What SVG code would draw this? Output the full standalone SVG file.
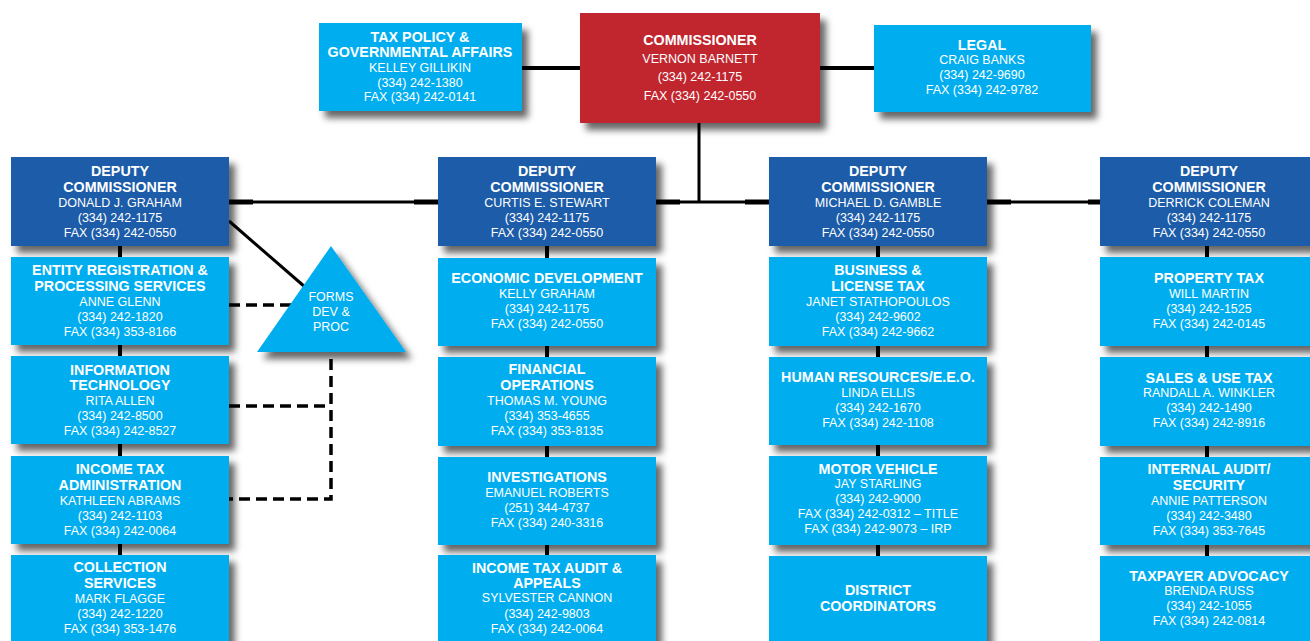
<svg xmlns="http://www.w3.org/2000/svg" width="1310" height="641" viewBox="0 0 1310 641">
<defs>
<filter id="sh" x="-10%" y="-10%" width="130%" height="140%">
<feDropShadow dx="6" dy="7" stdDeviation="3.5" flood-color="#000" flood-opacity="0.6"/>
</filter>
<style>
.lb{fill:#00AEEF;filter:url(#sh)}
.db{fill:#1F5BA8;filter:url(#sh)}
.rd{fill:#C1272D;filter:url(#sh)}
text{font-family:"Liberation Sans",Arial,sans-serif;fill:#fff;text-anchor:middle}
.t{font-weight:bold;font-size:14.3px}
.d{font-size:12.5px}
.ln{stroke:#000;fill:none}
.th{stroke-width:5}
.tn{stroke-width:3}
.ds{stroke-width:3.5;stroke-dasharray:11 6}
</style>
</defs>
<rect width="1310" height="641" fill="#fff"/>
<g id="connectors">
<line class="ln" stroke-width="4" x1="522" y1="68" x2="580" y2="68"/>
<line class="ln" stroke-width="4" x1="820" y1="68" x2="874" y2="68"/>
<line class="ln tn" x1="699" y1="123" x2="699" y2="202"/>
<line class="ln tn" x1="229" y1="202" x2="1100" y2="202"/>
<line class="ln th" x1="229" y1="202" x2="253" y2="202"/>
<line class="ln th" x1="414" y1="202" x2="438" y2="202"/>
<line class="ln th" x1="656" y1="202" x2="680" y2="202"/>
<line class="ln th" x1="745" y1="202" x2="769" y2="202"/>
<line class="ln th" x1="987" y1="202" x2="1011" y2="202"/>
<line class="ln th" x1="1088" y1="202" x2="1100" y2="202"/>
<line class="ln tn" x1="229" y1="221" x2="305" y2="287"/>
<line class="ln" stroke-width="4" x1="120" y1="246" x2="120" y2="555"/>
<line class="ln" stroke-width="4" x1="547" y1="246" x2="547" y2="555"/>
<line class="ln" stroke-width="4" x1="878" y1="246" x2="878" y2="556"/>
<line class="ln" stroke-width="4" x1="1207" y1="246" x2="1207" y2="556"/>
<line class="ln ds" x1="229" y1="305" x2="300" y2="305"/>
<polyline class="ln ds" points="229,406 331,406"/>
<polyline class="ln ds" points="331,359 331,499 229,499"/>
</g>
<g id="tax-policy">
<rect class="lb" x="319" y="23" width="203" height="88"/>
<text class="t" x="420" y="42">TAX POLICY &amp;</text>
<text class="t" x="420" y="57">GOVERNMENTAL AFFAIRS</text>
<text class="d" x="420" y="72">KELLEY GILLIKIN</text>
<text class="d" x="420" y="87">(334) 242-1380</text>
<text class="d" x="420" y="101">FAX (334) 242-0141</text>
</g>
<g id="commissioner">
<rect class="rd" x="580" y="13" width="240" height="110"/>
<text class="t" x="700" y="45">COMMISSIONER</text>
<text class="d" x="700" y="63">VERNON BARNETT</text>
<text class="d" x="700" y="81">(334) 242-1175</text>
<text class="d" x="700" y="100">FAX (334) 242-0550</text>
</g>
<g id="legal">
<rect class="lb" x="874" y="25" width="217" height="87"/>
<text class="t" x="982" y="50">LEGAL</text>
<text class="d" x="982" y="64">CRAIG BANKS</text>
<text class="d" x="982" y="79">(334) 242-9690</text>
<text class="d" x="982" y="94">FAX (334) 242-9782</text>
</g>
<g id="deputy-graham">
<rect class="db" x="11" y="157" width="218" height="89"/>
<text class="t" x="120" y="176">DEPUTY</text>
<text class="t" x="120" y="192">COMMISSIONER</text>
<text class="d" x="120" y="207">DONALD J. GRAHAM</text>
<text class="d" x="120" y="222">(334) 242-1175</text>
<text class="d" x="120" y="237">FAX (334) 242-0550</text>
</g>
<g id="entity-registration">
<rect class="lb" x="11" y="257" width="218" height="88"/>
<text class="t" x="120" y="275">ENTITY REGISTRATION &amp;</text>
<text class="t" x="120" y="291">PROCESSING SERVICES</text>
<text class="d" x="120" y="306">ANNE GLENN</text>
<text class="d" x="120" y="321">(334) 242-1820</text>
<text class="d" x="120" y="336">FAX (334) 353-8166</text>
</g>
<g id="information-technology">
<rect class="lb" x="11" y="356" width="218" height="88"/>
<text class="t" x="120" y="375">INFORMATION</text>
<text class="t" x="120" y="390">TECHNOLOGY</text>
<text class="d" x="120" y="405">RITA ALLEN</text>
<text class="d" x="120" y="420">(334) 242-8500</text>
<text class="d" x="120" y="435">FAX (334) 242-8527</text>
</g>
<g id="income-tax-admin">
<rect class="lb" x="11" y="456" width="218" height="88"/>
<text class="t" x="120" y="474">INCOME TAX</text>
<text class="t" x="120" y="490">ADMINISTRATION</text>
<text class="d" x="120" y="505">KATHLEEN ABRAMS</text>
<text class="d" x="120" y="520">(334) 242-1103</text>
<text class="d" x="120" y="535">FAX (334) 242-0064</text>
</g>
<g id="collection-services">
<rect class="lb" x="11" y="555" width="218" height="100"/>
<text class="t" x="120" y="572">COLLECTION</text>
<text class="t" x="120" y="588">SERVICES</text>
<text class="d" x="120" y="603">MARK FLAGGE</text>
<text class="d" x="120" y="618">(334) 242-1220</text>
<text class="d" x="120" y="633">FAX (334) 353-1476</text>
</g>
<g id="forms-dev">
<polygon points="331,246 406,352 257,352" fill="#00AEEF" filter="url(#sh)"/>
<text class="d" x="331" y="301">FORMS</text>
<text class="d" x="331" y="316">DEV &amp;</text>
<text class="d" x="331" y="331">PROC</text>
</g>
<g id="deputy-stewart">
<rect class="db" x="438" y="157" width="218" height="89"/>
<text class="t" x="547" y="176">DEPUTY</text>
<text class="t" x="547" y="192">COMMISSIONER</text>
<text class="d" x="547" y="207">CURTIS E. STEWART</text>
<text class="d" x="547" y="222">(334) 242-1175</text>
<text class="d" x="547" y="237">FAX (334) 242-0550</text>
</g>
<g id="economic-development">
<rect class="lb" x="438" y="258" width="218" height="88"/>
<text class="t" x="547" y="283">ECONOMIC DEVELOPMENT</text>
<text class="d" x="547" y="298">KELLY GRAHAM</text>
<text class="d" x="547" y="313">(334) 242-1175</text>
<text class="d" x="547" y="328">FAX (334) 242-0550</text>
</g>
<g id="financial-operations">
<rect class="lb" x="438" y="357" width="218" height="89"/>
<text class="t" x="547" y="374">FINANCIAL</text>
<text class="t" x="547" y="390">OPERATIONS</text>
<text class="d" x="547" y="405">THOMAS M. YOUNG</text>
<text class="d" x="547" y="420">(334) 353-4655</text>
<text class="d" x="547" y="435">FAX (334) 353-8135</text>
</g>
<g id="investigations">
<rect class="lb" x="438" y="457" width="218" height="88"/>
<text class="t" x="547" y="482">INVESTIGATIONS</text>
<text class="d" x="547" y="497">EMANUEL ROBERTS</text>
<text class="d" x="547" y="512">(251) 344-4737</text>
<text class="d" x="547" y="527">FAX (334) 240-3316</text>
</g>
<g id="income-tax-audit">
<rect class="lb" x="438" y="555" width="218" height="100"/>
<text class="t" x="547" y="573">INCOME TAX AUDIT &amp;</text>
<text class="t" x="547" y="588">APPEALS</text>
<text class="d" x="547" y="602">SYLVESTER CANNON</text>
<text class="d" x="547" y="618">(334) 242-9803</text>
<text class="d" x="547" y="633">FAX (334) 242-0064</text>
</g>
<g id="deputy-gamble">
<rect class="db" x="769" y="157" width="218" height="89"/>
<text class="t" x="878" y="176">DEPUTY</text>
<text class="t" x="878" y="192">COMMISSIONER</text>
<text class="d" x="878" y="207">MICHAEL D. GAMBLE</text>
<text class="d" x="878" y="222">(334) 242-1175</text>
<text class="d" x="878" y="237">FAX (334) 242-0550</text>
</g>
<g id="business-license">
<rect class="lb" x="769" y="257" width="218" height="89"/>
<text class="t" x="878" y="275">BUSINESS &amp;</text>
<text class="t" x="878" y="291">LICENSE TAX</text>
<text class="d" x="878" y="306">JANET STATHOPOULOS</text>
<text class="d" x="878" y="321">(334) 242-9602</text>
<text class="d" x="878" y="336">FAX (334) 242-9662</text>
</g>
<g id="human-resources">
<rect class="lb" x="769" y="357" width="218" height="88"/>
<text class="t" x="878" y="382">HUMAN RESOURCES/E.E.O.</text>
<text class="d" x="878" y="397">LINDA ELLIS</text>
<text class="d" x="878" y="412">(334) 242-1670</text>
<text class="d" x="878" y="427">FAX (334) 242-1108</text>
</g>
<g id="motor-vehicle">
<rect class="lb" x="769" y="456" width="218" height="89"/>
<text class="t" x="878" y="474">MOTOR VEHICLE</text>
<text class="d" x="878" y="488">JAY STARLING</text>
<text class="d" x="878" y="503">(334) 242-9000</text>
<text class="d" x="878" y="518">FAX (334) 242-0312 – TITLE</text>
<text class="d" x="878" y="533">FAX (334) 242-9073 – IRP</text>
</g>
<g id="district-coordinators">
<rect class="lb" x="769" y="556" width="218" height="100"/>
<text class="t" x="878" y="595">DISTRICT</text>
<text class="t" x="878" y="611">COORDINATORS</text>
</g>
<g id="deputy-coleman">
<rect class="db" x="1100" y="157" width="218" height="89"/>
<text class="t" x="1209" y="176">DEPUTY</text>
<text class="t" x="1209" y="192">COMMISSIONER</text>
<text class="d" x="1209" y="207">DERRICK COLEMAN</text>
<text class="d" x="1209" y="222">(334) 242-1175</text>
<text class="d" x="1209" y="237">FAX (334) 242-0550</text>
</g>
<g id="property-tax">
<rect class="lb" x="1100" y="257" width="218" height="89"/>
<text class="t" x="1209" y="283">PROPERTY TAX</text>
<text class="d" x="1209" y="298">WILL MARTIN</text>
<text class="d" x="1209" y="313">(334) 242-1525</text>
<text class="d" x="1209" y="328">FAX (334) 242-0145</text>
</g>
<g id="sales-use-tax">
<rect class="lb" x="1100" y="357" width="218" height="89"/>
<text class="t" x="1209" y="383">SALES &amp; USE TAX</text>
<text class="d" x="1209" y="397">RANDALL A. WINKLER</text>
<text class="d" x="1209" y="412">(334) 242-1490</text>
<text class="d" x="1209" y="427">FAX (334) 242-8916</text>
</g>
<g id="internal-audit">
<rect class="lb" x="1100" y="457" width="218" height="88"/>
<text class="t" x="1209" y="474">INTERNAL AUDIT/</text>
<text class="t" x="1209" y="490">SECURITY</text>
<text class="d" x="1209" y="505">ANNIE PATTERSON</text>
<text class="d" x="1209" y="520">(334) 242-3480</text>
<text class="d" x="1209" y="535">FAX (334) 353-7645</text>
</g>
<g id="taxpayer-advocacy">
<rect class="lb" x="1100" y="556" width="218" height="100"/>
<text class="t" x="1209" y="581">TAXPAYER ADVOCACY</text>
<text class="d" x="1209" y="595">BRENDA RUSS</text>
<text class="d" x="1209" y="610">(334) 242-1055</text>
<text class="d" x="1209" y="625">FAX (334) 242-0814</text>
</g>
</svg>
